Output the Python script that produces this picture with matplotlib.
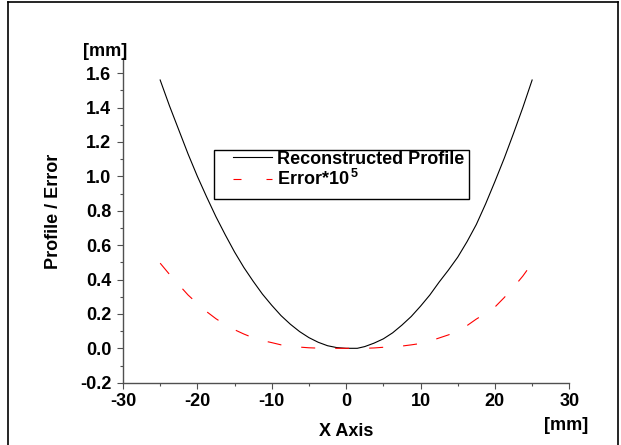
import matplotlib
matplotlib.use("Agg")
import matplotlib.pyplot as plt
from matplotlib.lines import Line2D
from matplotlib.patches import Rectangle
from matplotlib.ticker import MultipleLocator

# values
x_vals = [-25, -23.75, -22.5, -21.25, -20, -18.75, -17.5, -16.25, -15, -13.75, -12.5,
          -11.25, -10, -8.75, -7.5, -6.25, -5, -3.75, -2.5, -1.25, 0, 1.5,
          2.5, 3.75, 5, 6.25, 7.5, 8.75, 10, 11.25, 12.5, 13.75, 15, 16.25, 17.5,
          18.75, 20, 21.25, 22.5, 23.75, 25]
profile = [1.56, 1.41, 1.27, 1.13, 1.0, 0.88, 0.765, 0.66, 0.56, 0.47, 0.39,
           0.315, 0.25, 0.19, 0.14, 0.097, 0.062, 0.035, 0.015, 0.004, 0.0, 0.0,
           0.01, 0.03, 0.055, 0.09, 0.135, 0.185, 0.245, 0.31, 0.385, 0.455, 0.53, 0.62, 0.72,
           0.84, 0.97, 1.105, 1.25, 1.40, 1.56]
error = [0.495, 0.43, 0.37, 0.31, 0.26, 0.213, 0.172, 0.137, 0.108, 0.083, 0.061,
         0.045, 0.033, 0.02, 0.012, 0.007, 0.003, 0.001, 0.0, 0.0, 0.0, 0.0,
         0.0, 0.002, 0.006, 0.009, 0.013, 0.02, 0.028, 0.042, 0.06, 0.078, 0.099, 0.132, 0.17,
         0.203, 0.24, 0.295, 0.355, 0.42, 0.495]

x_ticks = [-30, -20, -10, 0, 10, 20, 30]
y_ticks = [-0.2, 0.0, 0.2, 0.4, 0.6, 0.8, 1.0, 1.2, 1.4, 1.6]

plt.rcParams['font.family'] = ['Liberation Sans', 'DejaVu Sans']
plt.rcParams['font.weight'] = 'bold'
plt.rcParams['mathtext.fontset'] = 'custom'
plt.rcParams['mathtext.rm'] = 'Liberation Sans:bold'
plt.rcParams['mathtext.bf'] = 'Liberation Sans:bold'

fig = plt.figure(figsize=(6.21, 4.45), dpi=100)
ax = fig.add_axes([0.198, 0.140, 0.7188, 0.7297])

ax.plot(x_vals, profile, color='black', lw=0.8)
ax.plot(x_vals, error, color='red', lw=0.8, linestyle=(0, (12.6, 18)))

ax.set_xlim(-30, 30)
ax.set_ylim(-0.2, 1.688)
ax.set_xticks(x_ticks)
ax.set_xticklabels([str(t) for t in x_ticks])
ax.set_yticks(y_ticks)
ax.set_yticklabels(['%.1f' % t for t in y_ticks])
ax.xaxis.set_minor_locator(MultipleLocator(5))
ax.yaxis.set_minor_locator(MultipleLocator(0.1))

for s in ['top', 'right']:
    ax.spines[s].set_visible(False)
for s in ['left', 'bottom']:
    ax.spines[s].set_color('#505050')
    ax.spines[s].set_linewidth(1.0)

ax.tick_params(which='major', direction='out', length=4.2, width=0.8, color='#505050', labelsize=13)
ax.tick_params(which='minor', direction='out', length=2.2, width=0.8, color='#505050')
ax.tick_params(axis='x', which='major', pad=3)
ax.tick_params(axis='y', which='major', pad=4.3)

fig.text(346 / 621, 1 - 432 / 445, 'X Axis', ha='center', va='center', fontsize=13, fontweight='bold')
fig.text(566 / 621, 1 - 426 / 445, '[mm]', ha='center', va='center', fontsize=13, fontweight='bold')
fig.text(54 / 621, 1 - 211 / 445, 'Profile / Error', ha='center', va='center', rotation=90,
         fontsize=13, fontweight='bold')
fig.text(105.5 / 621, 1 - 51 / 445, '[mm]', ha='center', va='center', fontsize=13, fontweight='bold')

# legend with its own box
ax.add_patch(Rectangle((0.2046, 0.565), 0.5713, 0.1517, transform=ax.transAxes,
                       fill=False, edgecolor='black', lw=1.0, zorder=5))
h1 = Line2D([], [], color='black', lw=0.8)
h2 = Line2D([], [], color='red', lw=0.8, linestyle=(0, (7.2, 22.5)))
ax.legend([h1, h2], ['Reconstructed Profile', r'Error*10$^{\,5}$'],
          loc='center left', bbox_to_anchor=(0.2465, 0.655), frameon=False,
          borderpad=0, borderaxespad=0, handlelength=2.15, handletextpad=0.28, labelspacing=0.1,
          prop={'size': 13, 'weight': 'bold'})

# border round the figure (left, top, right)
fig.add_artist(Line2D([7.5 / 621, 7.5 / 621], [0, 1 - 1.5 / 445], transform=fig.transFigure,
                      color='black', lw=1.2))
fig.add_artist(Line2D([7.5 / 621, 618 / 621], [1 - 1.5 / 445, 1 - 1.5 / 445],
                      transform=fig.transFigure, color='black', lw=1.2))
fig.add_artist(Line2D([618 / 621, 618 / 621], [0, 1 - 1.5 / 445], transform=fig.transFigure,
                      color='black', lw=1.2))

fig.savefig('out.png', dpi=100)
